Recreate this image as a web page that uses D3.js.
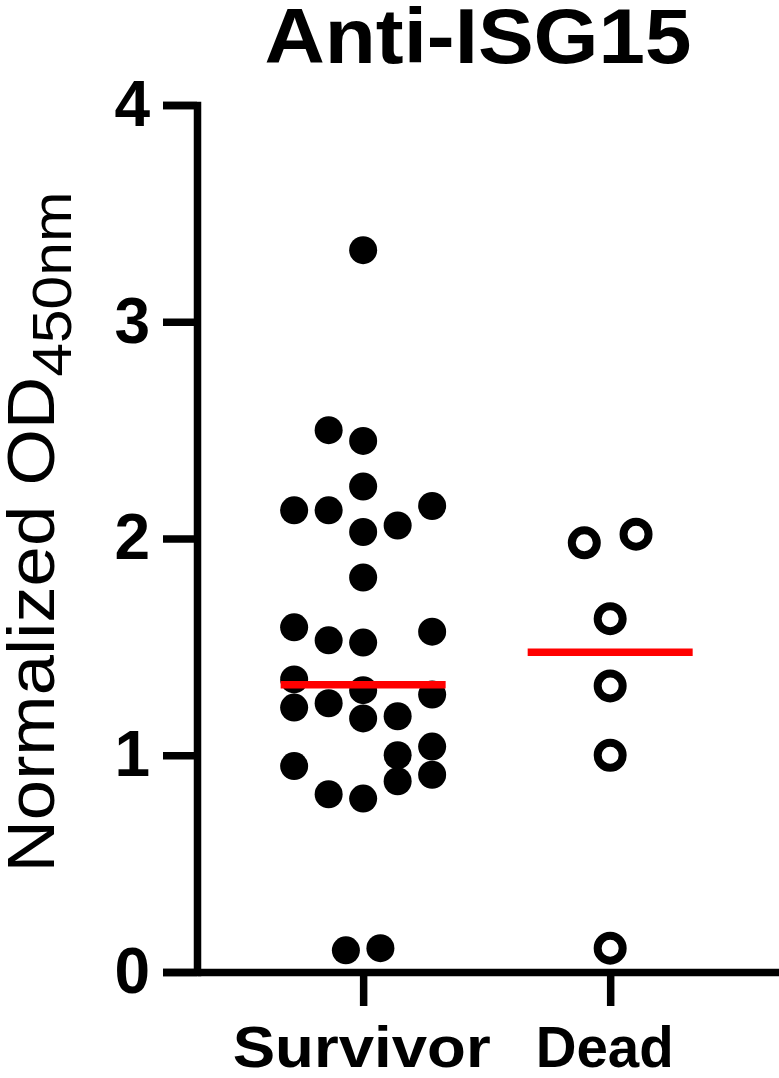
<!DOCTYPE html>
<html>
<head>
<meta charset="utf-8">
<script src="https://cdn.jsdelivr.net/npm/d3@7"></script>
<style>
    body { margin: 0; background: #fff; }
    svg text { font-family: Arial, "Liberation Sans", Helvetica, sans-serif; fill: #000; }
</style>
</head>
<body>
<div id="chart"></div>
<script>
// dot plot: anti-ISG15 antibody level, survivors vs dead
// values, lanes = which column of the scatter a dot sits in

const groups = ["Survivor", "Dead"];

const survivorValues = [3.33, 2.50, 2.45, 2.24, 2.13, 2.13, 2.15, 2.03, 2.06, 1.82,
    1.59, 1.53, 1.52, 1.57, 1.35, 1.30, 1.28, 1.22, 1.24, 1.17,
    1.18, 1.04, 1.00, 0.95, 0.91, 0.88, 0.82, 0.80, 0.10, 0.11];
const survivorLanes = [0, -1, 0, 0, -2, -1, 2, 0, 1, 0,
    -2, -1, 0, 2, -2, 0, 2, -2, -1, 0,
    1, 2, 1, -2, 2, 1, -1, 0, -0.5, 0.5];

const deadValues = [1.98, 2.02, 1.63, 1.32, 1.00, 0.11];
const deadLanes = [-0.75, 0.75, 0, 0, 0, 0];

const yTicks = [0, 1, 2, 3, 4];
const yDomain = [0, 4];

const titleText = "Anti-ISG15";
const yLabelMain = "Normalized OD";
const yLabelSub = "450nm";

class DotPlot {

    constructor(parentElement) {
        this.parentElement = parentElement;
        this.initvis();
    }

    initvis() {
        let vis = this;

        vis.W = 779;
        vis.H = 1078;
        vis.margin = {top: 105, right: 0, bottom: 106, left: 197};
        vis.height = vis.H - vis.margin.top - vis.margin.bottom;

        vis.svg = d3.select("#" + vis.parentElement).append("svg")
            .attr("width", vis.W)
            .attr("height", vis.H);

        vis.y = d3.scaleLinear()
            .domain(yDomain)
            .range([vis.H - vis.margin.bottom, vis.margin.top]);

        vis.x = d3.scalePoint()
            .domain(groups)
            .range([vis.margin.left, vis.W - vis.margin.right])
            .padding(0.678)
            .align(0.496);

        // pixel spacing between scatter columns
        vis.lane = d3.scaleLinear().domain([0, 1]).range([0, 34.5]);

        vis.wrangledata();
    }

    wrangledata() {
        let vis = this;

        vis.displayData = [];
        survivorValues.forEach((v, i) => {
            vis.displayData.push({group: "Survivor", value: v, lane: survivorLanes[i]});
        });
        deadValues.forEach((v, i) => {
            vis.displayData.push({group: "Dead", value: v, lane: deadLanes[i]});
        });

        vis.medians = groups.map(g => ({
            group: g,
            value: d3.median(vis.displayData.filter(d => d.group === g), d => d.value)
        }));

        vis.updatevis();
    }

    updatevis() {
        let vis = this;
        let axisWidth = 7.5;
        let tickLen = 34;

        // y axis
        let yAxis = d3.axisLeft(vis.y)
            .tickValues(yTicks)
            .tickFormat(d3.format("d"))
            .tickSize(tickLen)
            .tickSizeOuter(tickLen)
            .tickPadding(13);

        let yg = vis.svg.append("g")
            .attr("class", "y-axis axis")
            .attr("transform", "translate(" + vis.margin.left + ",0)")
            .call(yAxis);

        // x axis
        let xAxis = d3.axisBottom(vis.x)
            .tickSize(tickLen)
            .tickSizeOuter(0);

        let xg = vis.svg.append("g")
            .attr("class", "x-axis axis")
            .attr("transform", "translate(0," + vis.y(0) + ")")
            .call(xAxis);

        vis.svg.selectAll(".axis path, .axis line")
            .attr("stroke", "#000")
            .attr("stroke-width", axisWidth)
            .attr("stroke-linecap", "butt");
        vis.svg.selectAll(".axis path").attr("stroke-linejoin", "miter");

        yg.selectAll("text")
            .style("font-size", "64px")
            .style("font-weight", "bold");

        xg.selectAll("text")
            .attr("y", 95)
            .attr("dy", 0)
            .attr("dx", d => d === "Survivor" ? -2 : -6)
            .style("font-size", "57px")
            .style("font-weight", "bold")
            .attr("textLength", d => d === "Survivor" ? 258 : 138)
            .attr("lengthAdjust", "spacingAndGlyphs");

        // dots
        let dots = vis.svg.append("g").attr("class", "dots")
            .selectAll("circle")
            .data(vis.displayData);

        dots.enter()
            .append("circle")
            .attr("cx", d => vis.x(d.group) + vis.lane(d.lane))
            .attr("cy", d => vis.y(d.value))
            .attr("r", d => d.group === "Survivor" ? 14 : 12.5)
            .attr("fill", d => d.group === "Survivor" ? "#000" : "#fff")
            .attr("stroke", d => d.group === "Survivor" ? "none" : "#000")
            .attr("stroke-width", 8);

        // median lines
        vis.svg.append("g").attr("class", "medians")
            .selectAll("line")
            .data(vis.medians)
            .enter()
            .append("line")
            .attr("x1", d => vis.x(d.group) - 82.5)
            .attr("x2", d => vis.x(d.group) + 82.5)
            .attr("y1", d => vis.y(d.value))
            .attr("y2", d => vis.y(d.value))
            .attr("stroke", "#ff0000")
            .attr("stroke-width", 7.5);

        // title
        vis.svg.append("text")
            .attr("x", 478)
            .attr("y", 63)
            .attr("text-anchor", "middle")
            .style("font-size", "78px")
            .style("font-weight", "bold")
            .attr("textLength", 427)
            .attr("lengthAdjust", "spacingAndGlyphs")
            .text(titleText);

        // y axis title with subscript
        let ylab = vis.svg.append("text")
            .attr("transform", "translate(54," + 532 + ") rotate(-90)")
            .attr("text-anchor", "middle")
            .attr("textLength", 681)
            .attr("lengthAdjust", "spacingAndGlyphs")
            .style("font-size", "67px");
        ylab.append("tspan").text(yLabelMain);
        ylab.append("tspan")
            .attr("dy", 17)
            .style("font-size", "56px")
            .text(yLabelSub);
    }
}

new DotPlot("chart");
</script>
</body>
</html>
